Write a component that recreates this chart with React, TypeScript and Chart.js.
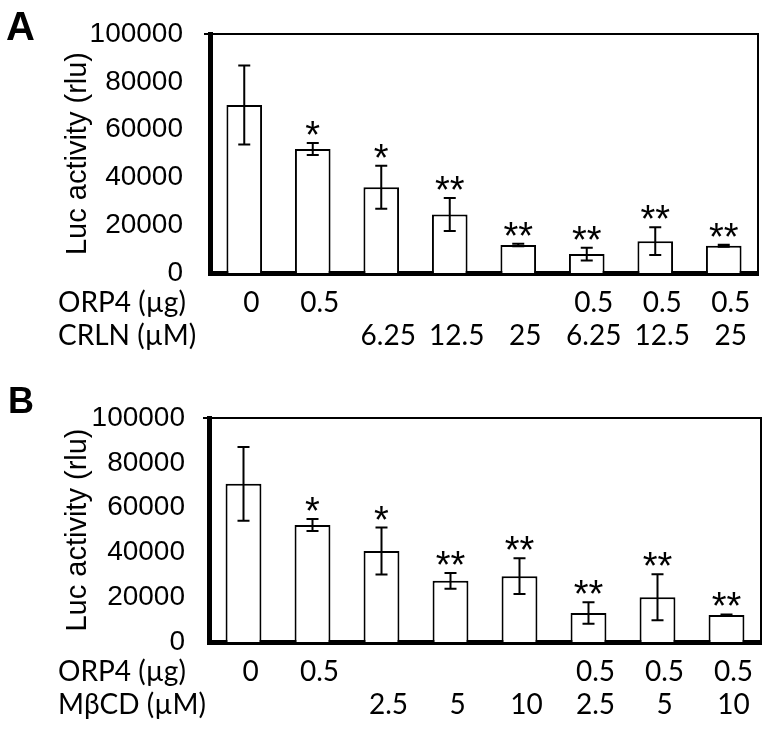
import React, { useEffect, useRef } from 'react';
import { Chart, registerables } from 'chart.js';
Chart.register(...registerables);

// ---------- data ----------
const orp4Row = ['0', '0.5', '', '', '', '0.5', '0.5', '0.5'];
const crlnRow = ['', '', '6.25', '12.5', '25', '6.25', '12.5', '25'];
const mbcdRow = ['', '', '2.5', '5', '10', '2.5', '5', '10'];

const valuesA = [70300, 51900, 35900, 24500, 11700, 7900, 13300, 11400];
const errorsA = [16500, 2500, 9000, 6900, 500, 2700, 5800, 400];
const sigA = ['', '*', '*', '**', '**', '**', '**', '**'];

const valuesB = [70600, 52200, 40600, 27300, 29400, 13000, 20000, 12000];
const errorsB = [16500, 2700, 10500, 3500, 8000, 4800, 10300, 300];
const sigB = ['', '*', '*', '**', '**', '**', '**', '**'];

const yMin = 0;
const yMax = 100000;
const yStep = 20000;
const yTitle = 'Luc activity (rlu)';
const rowNamesA = ['ORP4 (\u00b5g)', 'CRLN (\u00b5M)'];
const rowNamesB = ['ORP4 (\u00b5g)', 'M\u03b2CD (\u00b5M)'];

// ---------- styles ----------
const SANS = '"Liberation Sans", Arial, sans-serif';
const CAL = 'Lato, "Open Sans", sans-serif';
const rowFontSize = 28;
const rowLineHeight = 1.2;
const xPad = 13;

type PanelCfg = {
  letter: string;
  letterSize: number;
  letterX: number;
  letterBaseline: number;
  rows: string[][];
  rowNames: string[];
  values: number[];
  errors: number[];
  sig: string[];
  padTop: number;
  padRight: number;
  yWidth: number;
  xHeight: number;
  tickPad: number;
};

function makeChart(canvas: HTMLCanvasElement, cfg: PanelCfg) {
  const labels = cfg.rows[0].map((_, i) => cfg.rows.map((r) => r[i]));
  const overlay = {
    id: 'overlay',
    afterDatasetsDraw(chart: any) {
      const ctx = chart.ctx;
      const y = chart.scales.y;
      const meta = chart.getDatasetMeta(0);
      ctx.save();
      ctx.strokeStyle = '#000';
      ctx.fillStyle = '#000';
      ctx.lineWidth = 2;
      meta.data.forEach((bar: any, i: number) => {
        const v = cfg.values[i];
        const e = cfg.errors[i];
        const x = bar.x;
        const yt = y.getPixelForValue(v + e);
        const yb = y.getPixelForValue(v - e);
        ctx.beginPath();
        ctx.moveTo(x, yt);
        ctx.lineTo(x, yb);
        ctx.moveTo(x - 6, yt);
        ctx.lineTo(x + 6, yt);
        ctx.moveTo(x - 6, yb);
        ctx.lineTo(x + 6, yb);
        ctx.stroke();
        if (cfg.sig[i]) {
          ctx.font = `38px ${SANS}`;
          ctx.textAlign = 'center';
          ctx.textBaseline = 'alphabetic';
          ctx.fillText(cfg.sig[i], x, yt + 5);
        }
      });
      ctx.restore();
    },
    afterDraw(chart: any) {
      const ctx = chart.ctx;
      const a = chart.chartArea;
      const xs = chart.scales.x;
      ctx.save();
      ctx.strokeStyle = '#000';
      ctx.lineWidth = 2;
      ctx.beginPath();
      ctx.moveTo(a.left - 6, a.top);
      ctx.lineTo(a.right, a.top);
      ctx.lineTo(a.right, a.bottom);
      ctx.stroke();
      ctx.fillStyle = '#000';
      ctx.font = `${rowFontSize}px ${CAL}`;
      ctx.textAlign = 'left';
      ctx.textBaseline = 'middle';
      const lh = rowFontSize * rowLineHeight;
      cfg.rowNames.forEach((n, i) => {
        ctx.fillText(n, 58, xs.top + xPad + lh * (i + 0.5));
      });
      ctx.font = `bold ${cfg.letterSize}px ${SANS}`;
      ctx.textBaseline = 'alphabetic';
      ctx.fillText(cfg.letter, cfg.letterX, cfg.letterBaseline);
      ctx.restore();
    },
  };

  return new Chart(canvas, {
    type: 'bar',
    data: {
      labels,
      datasets: [
        {
          data: cfg.values,
          backgroundColor: '#ffffff',
          borderColor: '#000000',
          borderWidth: 2,
          borderSkipped: 'bottom',
          categoryPercentage: 1,
          barPercentage: 0.52,
        },
      ],
    },
    options: {
      responsive: false,
      animation: false,
      events: [],
      layout: { padding: { top: cfg.padTop, right: cfg.padRight, left: 0, bottom: 0 } },
      plugins: { legend: { display: false }, tooltip: { enabled: false } },
      scales: {
        x: {
          z: 1,
          grid: { display: false, drawTicks: false },
          border: { display: true, width: 5, color: '#000' },
          ticks: {
            color: '#000',
            font: { family: CAL, size: rowFontSize, lineHeight: rowLineHeight },
            padding: xPad,
            labelOffset: 7,
            autoSkip: false,
            maxRotation: 0,
            minRotation: 0,
          },
          afterFit: (s: any) => {
            s.height = cfg.xHeight;
            s.paddingLeft = 0;
            s.paddingRight = 0;
          },
        },
        y: {
          z: 1,
          min: yMin,
          max: yMax,
          grid: { display: false, drawTicks: false },
          border: { display: true, width: 5, color: '#000' },
          ticks: {
            stepSize: yStep,
            color: '#000',
            font: { family: SANS, size: 28 },
            padding: cfg.tickPad,
            callback: (v: any) => String(v),
          },
          title: {
            display: true,
            text: yTitle,
            color: '#000',
            font: { family: SANS, size: 29 },
            padding: { top: 61, bottom: 0 },
          },
          afterFit: (s: any) => {
            s.width = cfg.yWidth;
            s.paddingTop = 0;
            s.paddingBottom = 0;
          },
        },
      },
    },
    plugins: [overlay],
  } as any);
}

const panelA: PanelCfg = {
  letter: 'A',
  letterSize: 40,
  letterX: 6,
  letterBaseline: 40,
  rows: [orp4Row, crlnRow],
  rowNames: rowNamesA,
  values: valuesA,
  errors: errorsA,
  sig: sigA,
  padTop: 34,
  padRight: 12,
  yWidth: 210,
  xHeight: 96,
  tickPad: 27,
};

const panelB: PanelCfg = {
  letter: 'B',
  letterSize: 36,
  letterX: 8,
  letterBaseline: 44,
  rows: [orp4Row, mbcdRow],
  rowNames: rowNamesB,
  values: valuesB,
  errors: errorsB,
  sig: sigB,
  padTop: 49,
  padRight: 9,
  yWidth: 209,
  xHeight: 96,
  tickPad: 24,
};

function Panel({ cfg, top }: { cfg: PanelCfg; top: number }) {
  const ref = useRef<HTMLCanvasElement>(null);
  useEffect(() => {
    if (!ref.current) return;
    const ch = makeChart(ref.current, cfg);
    return () => ch.destroy();
  }, [cfg]);
  return (
    <canvas
      ref={ref}
      width={770}
      height={369}
      style={{ position: 'absolute', left: 0, top, width: 770, height: 369 }}
    />
  );
}

export default function App() {
  return (
    <div style={{ position: 'absolute', left: 0, top: 0, width: 770, height: 738, background: '#fff' }}>
      <Panel cfg={panelA} top={0} />
      <Panel cfg={panelB} top={369} />
    </div>
  );
}
